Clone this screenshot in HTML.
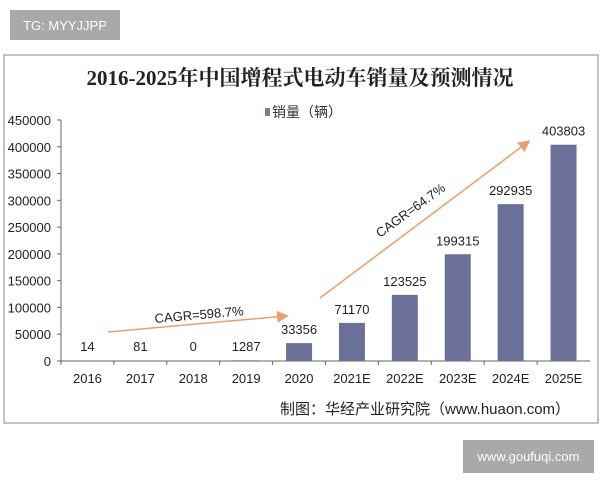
<!DOCTYPE html>
<html><head><meta charset="utf-8"><style>
body{margin:0;width:600px;height:480px;background:#fff;position:relative;font-family:"Liberation Sans","Noto Sans CJK SC",sans-serif;overflow:hidden}
.badge{position:absolute;background:#a9a9a9;color:#fff;font-size:13px;display:flex;align-items:center;justify-content:center}
</style></head><body>
<div class="badge" style="left:10px;top:10px;width:110px;height:30px">TG: MYYJJPP</div>
<div class="badge" style="left:463px;top:440px;width:131px;height:33px">www.goufuqi.com</div>
<svg width="600" height="480" style="position:absolute;left:0;top:0">
<rect x="4" y="55" width="594" height="368" fill="none" stroke="#999" stroke-width="1.2"/>
<text x="300" y="85" text-anchor="middle" font-family="'Liberation Serif','Noto Serif CJK SC',serif" font-weight="bold" font-size="21" fill="#222">2016-2025年中国增程式电动车销量及预测情况</text>
<rect x="265" y="108" width="5" height="8" fill="#7a7d99"/>
<text x="272" y="117" font-size="14" fill="#333">销量（辆）</text>
<g id="g"></g>
<text x="280" y="414" font-size="15" fill="#222">制图：华经产业研究院（www.huaon.com）</text>
</svg>
<script>
const categories=["2016","2017","2018","2019","2020","2021E","2022E","2023E","2024E","2025E"];
const values=[14,81,0,1287,33356,71170,123525,199315,292935,403803];
const ticks=[0,50000,100000,150000,200000,250000,300000,350000,400000,450000];
const NS="http://www.w3.org/2000/svg",g=document.getElementById('g');
const x0=61,x1=590,yb=361,yt=120,maxV=450000;
const bw=(x1-x0)/categories.length;
const Y=v=>yb-(v/maxV)*(yb-yt);
const X=i=>x0+bw*(i+0.5);
function mk(t,a,txt){const e=document.createElementNS(NS,t);for(const k in a)e.setAttribute(k,a[k]);if(txt!==undefined)e.textContent=txt;g.appendChild(e);return e;}
let e=mk('line',{x1:x0,y1:yt,x2:x0,y2:yb,stroke:'#666'});

e=mk('line',{x1:x0,y1:yb,x2:x1,y2:yb,stroke:'#666'});

ticks.forEach(t=>{
 e=mk('line',{x1:x0-4,y1:Y(t),x2:x0,y2:Y(t),stroke:'#666'});
 
 e=mk('text',{x:x0-10,y:Y(t)+5,'text-anchor':'end','font-size':13,fill:'#222'},t);
 
});
categories.forEach((c,i)=>{
 e=mk('line',{x1:x0+bw*i,y1:yb,x2:x0+bw*i,y2:yb+4,stroke:'#666'});
 
 e=mk('text',{x:X(i),y:yb+22,'text-anchor':'middle','font-size':13,fill:'#222'},c);
 
 const v=values[i],bwid=26;
 e=mk('rect',{x:X(i)-bwid/2,y:Y(v),width:bwid,height:yb-Y(v),fill:'#6b7099'});
 
 const ly=v<5000?yb-10:Y(v)-9;
 e=mk('text',{x:X(i),y:ly,'text-anchor':'middle','font-size':13,fill:'#222'},v);
 
});
mk('defs',{}).innerHTML='<marker id="ah" markerWidth="8" markerHeight="8" refX="6" refY="4" orient="auto"><path d="M0,0 L8,4 L0,8 z" fill="#e8a070"/></marker>';
e=mk('line',{x1:108,y1:332,x2:286,y2:316,stroke:'#e8a070','stroke-width':1.5,'marker-end':'url(#ah)'});

e=mk('text',{x:155,y:323,'font-size':13,fill:'#222',transform:'rotate(-5 155 323)'},'CAGR=598.7%');

e=mk('line',{x1:320,y1:298,x2:528,y2:142,stroke:'#e8a070','stroke-width':1.5,'marker-end':'url(#ah)'});

e=mk('text',{x:380,y:238,'font-size':13,fill:'#222',transform:'rotate(-36 380 238)'},'CAGR=64.7%');

</script>
</body></html>
